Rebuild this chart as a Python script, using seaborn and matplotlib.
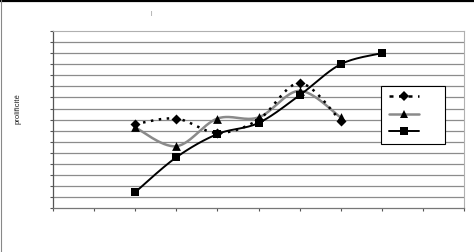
import numpy as np
import pandas as pd
import matplotlib
matplotlib.use("Agg")
import matplotlib.pyplot as plt
from matplotlib.lines import Line2D
import seaborn as sns

# ---- data ----
x_short = [2, 3, 4, 5, 6, 7]
diamond_vals = [7.6, 8.1, 6.8, 8.0, 11.3, 7.9]
triangle_vals = [7.3, 5.6, 8.1, 8.2, 10.6, 8.2]
x_long = [2, 3, 4, 5, 6, 7, 8]
square_vals = [1.45, 4.6, 6.7, 7.7, 10.2, 13.0, 14.0]
x_ticks = list(range(0, 11))
y_ticks = list(range(0, 17))
ylabel = "prolificité"
title_text = "|"

sns.set_theme(style="white")
plt.rcParams['font.family'] = ['Liberation Sans', 'DejaVu Sans']


def smooth(xs, ys, n=30):
    """Excel-like smoothed line (Catmull-Rom through the points), for drawing only."""
    xs = np.asarray(xs, float)
    ys = np.asarray(ys, float)
    P = np.column_stack([xs, ys])
    P = np.vstack([P[0], P, P[-1]])
    out = []
    t = np.linspace(0, 1, n)[:, None]
    for i in range(1, len(P) - 2):
        p0, p1, p2, p3 = P[i - 1], P[i], P[i + 1], P[i + 2]
        c1 = p1 + (p2 - p0) / 6.0
        c2 = p2 - (p3 - p1) / 6.0
        seg = ((1 - t) ** 3) * p1 + 3 * ((1 - t) ** 2) * t * c1 + 3 * (1 - t) * t ** 2 * c2 + t ** 3 * p2
        out.append(seg if i == 1 else seg[1:])
    s = np.vstack(out)
    return s[:, 0], s[:, 1]


fig = plt.figure(figsize=(4.74, 2.52), dpi=100)
ax = fig.add_axes([53 / 474, 1 - 208.3 / 252, (464 - 53) / 474, (208.3 - 31) / 252])

# grid
for v in y_ticks[1:-1]:
    ax.axhline(v, color="#8c8c8c", lw=0.9, zorder=0)

# smoothed lines
sx, sy = smooth(x_short, triangle_vals)
ax.plot(sx, sy, color="#8a8a8a", lw=1.8, zorder=2, solid_capstyle="round")
sx, sy = smooth(x_short, diamond_vals)
ax.plot(sx, sy, color="black", lw=1.8, ls=(0, (1, 2.2)), zorder=3)
sx, sy = smooth(x_long, square_vals)
ax.plot(sx, sy, color="black", lw=1.4, zorder=4)

# markers
df_d = pd.DataFrame({"x": x_short, "y": diamond_vals})
df_t = pd.DataFrame({"x": x_short, "y": triangle_vals})
df_s = pd.DataFrame({"x": x_long, "y": square_vals})
sns.scatterplot(data=df_t, x="x", y="y", marker="^", s=40, color="black", edgecolor="black", linewidth=0, ax=ax, zorder=5)
sns.scatterplot(data=df_d, x="x", y="y", marker="D", s=26, color="black", edgecolor="black", linewidth=0, ax=ax, zorder=6)
sns.scatterplot(data=df_s, x="x", y="y", marker="s", s=34, color="black", edgecolor="black", linewidth=0, ax=ax, zorder=7)

ax.set_xlim(0, 10)
ax.set_ylim(0, 16)
ax.set_xticks(x_ticks)
ax.set_yticks(y_ticks)
ax.set_xticklabels([])
ax.set_yticklabels([])
ax.set_xlabel("")
ax.set_ylabel("")
ax.tick_params(axis="both", which="both", direction="out", length=2.5, width=0.8, color="#555555",
               bottom=True, left=True, top=False, right=False)
for side in ["top", "right"]:
    ax.spines[side].set_color("#b0b0b0")
    ax.spines[side].set_linewidth(0.8)
ax.spines["left"].set_color("#555555")
ax.spines["bottom"].set_color("#777777")
ax.spines["left"].set_linewidth(0.9)
ax.spines["bottom"].set_linewidth(0.9)

# legend (empty labels)
handles = [
    Line2D([], [], color="black", lw=1.8, ls=(0, (1.6, 2.2)), marker="D", markersize=5, markerfacecolor="black", markeredgewidth=0),
    Line2D([], [], color="#8a8a8a", lw=1.8, marker="^", markersize=6, markerfacecolor="black", markeredgewidth=0),
    Line2D([], [], color="black", lw=1.4, marker="s", markersize=5.5, markerfacecolor="black", markeredgewidth=0),
]
leg = ax.legend(handles, ["     ", "     ", "     "], loc="upper left",
                bbox_to_anchor=(381 / 474, 1 - 86 / 252), bbox_transform=fig.transFigure,
                borderaxespad=0, fontsize=6, handlelength=3.7, labelspacing=1.15,
                borderpad=0.9, handletextpad=0.8, fancybox=False, framealpha=1, edgecolor="black")
leg.get_frame().set_linewidth(0.8)

# y label and title remnant
fig.text(18 / 474, 1 - 109 / 252, ylabel, rotation=90, ha="center", va="center", fontsize=5.6, color="#222222")
fig.text(151.7 / 474, 1 - 13 / 252, title_text, ha="center", va="center", fontsize=4, color="#777777")

# figure border lines
fig.add_artist(Line2D([0, 1], [1 - 0.5 / 252, 1 - 0.5 / 252], transform=fig.transFigure, color="black", lw=1.6))
fig.add_artist(Line2D([0.5 / 474, 0.5 / 474], [0, 1], transform=fig.transFigure, color="#888888", lw=0.8))

fig.savefig("out.png", dpi=100)
